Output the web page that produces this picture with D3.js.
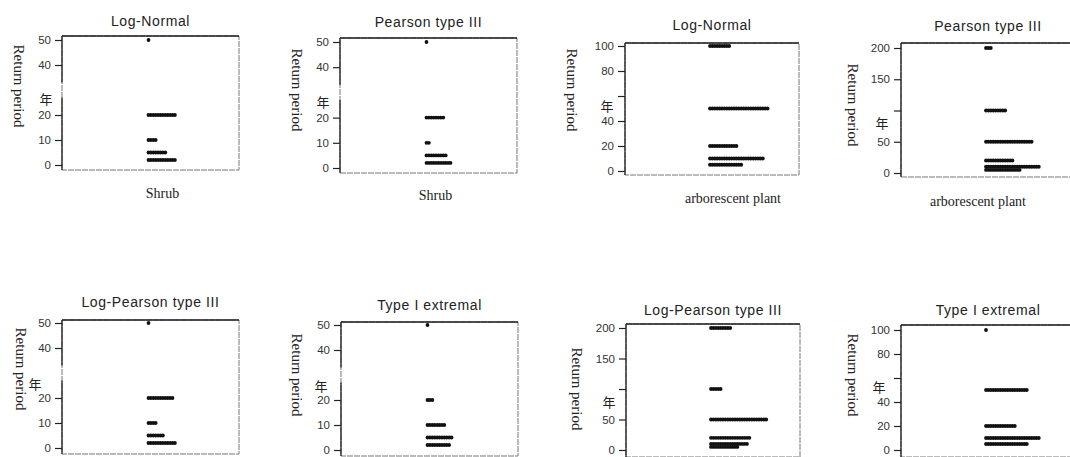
<!DOCTYPE html>
<html><head><meta charset="utf-8">
<script src="https://cdn.jsdelivr.net/npm/d3@7/dist/d3.min.js"></script>
<style>
html,body{margin:0;padding:0;background:#fff;}
svg{display:block;}
</style></head>
<body>
<svg id="chart" width="1070" height="457"></svg>
<script>
// ---------- data ----------
const categories = ["Shrub", "arborescent plant"];
const methods = ["Log-Normal", "Pearson type III", "Log-Pearson type III", "Type I extremal"];
const yAxisLabel = "Return period";
const yearChar = "年";

// return-period values (years) and number of stacked dots at each value
const shrubLogNormalValues = [50, 20, 10, 5, 2];
const shrubLogNormalCounts = [1, 12, 4, 8, 12];
const shrubPearsonValues = [50, 20, 10, 5, 2];
const shrubPearsonCounts = [1, 8, 2, 9, 11];
const shrubLogPearsonValues = [50, 20, 10, 5, 2];
const shrubLogPearsonCounts = [1, 11, 4, 7, 12];
const shrubExtremalValues = [50, 20, 10, 5, 2];
const shrubExtremalCounts = [1, 3, 8, 11, 10];

const arborLogNormalValues = [100, 50, 20, 10, 5];
const arborLogNormalCounts = [9, 25, 12, 23, 14];
const arborPearsonValues = [200, 100, 50, 20, 10, 5];
const arborPearsonCounts = [3, 9, 20, 12, 23, 15];
const arborLogPearsonValues = [200, 100, 50, 20, 10, 5];
const arborLogPearsonCounts = [9, 5, 24, 17, 16, 12];
const arborExtremalValues = [100, 50, 20, 10, 5];
const arborExtremalCounts = [1, 18, 13, 23, 18];

// tick values and labels
const shrubTicks = [0, 10, 20, 40, 50];
const shrubTickLabels = ["0", "10", "20", "40", "50"];
const arborTicks100 = [0, 20, 40, 60, 80, 100];
const arborTickLabels100 = ["0", "20", "40", "", "80", "100"];
const arborTicks200 = [0, 50, 100, 150, 200];
const arborTickLabels200 = ["0", "50", "", "150", "200"];
const shrubBreak = [27, 33];

// ---------- layout ----------
const panels = [
  {m:0, c:0, v:shrubLogNormalValues, n:shrubLogNormalCounts, t:shrubTicks, tl:shrubTickLabels, d:[0,50], brk:shrubBreak,
   x:62, w:177, y0:165, y1:40, top:36, bot:170, titleY:26, catDx:12, catY:198, ylx:19, yly:86, yrx:46, yry:104},
  {m:1, c:0, v:shrubPearsonValues, n:shrubPearsonCounts, t:shrubTicks, tl:shrubTickLabels, d:[0,50], brk:shrubBreak,
   x:340, w:177, y0:168, y1:42, top:38, bot:173, titleY:27, catDx:7, catY:200, ylx:297, yly:90, yrx:323, yry:107},
  {m:0, c:1, v:arborLogNormalValues, n:arborLogNormalCounts, t:arborTicks100, tl:arborTickLabels100, d:[0,100], brk:null,
   x:625, w:174, y0:171, y1:46, top:43, bot:175, titleY:30, catDx:21, catY:203, ylx:572, yly:90, yrx:607, yry:111},
  {m:1, c:1, v:arborPearsonValues, n:arborPearsonCounts, t:arborTicks200, tl:arborTickLabels200, d:[0,200], brk:null,
   x:901, w:174, y0:173, y1:48, top:43, bot:177, titleY:31, catDx:-10, catY:206, ylx:853, yly:105, yrx:882, yry:128},
  {m:2, c:0, v:shrubLogPearsonValues, n:shrubLogPearsonCounts, t:shrubTicks, tl:shrubTickLabels, d:[0,50], brk:shrubBreak,
   x:62, w:177, y0:448, y1:323, top:320, bot:454, titleY:307, catDx:12, catY:null, ylx:21, yly:369, yrx:35, yry:389},
  {m:3, c:0, v:shrubExtremalValues, n:shrubExtremalCounts, t:shrubTicks, tl:shrubTickLabels, d:[0,50], brk:shrubBreak,
   x:341, w:177, y0:450, y1:325, top:322, bot:456, titleY:310, catDx:7, catY:null, ylx:297, yly:375, yrx:321, yry:391},
  {m:2, c:1, v:arborLogPearsonValues, n:arborLogPearsonCounts, t:arborTicks200, tl:arborTickLabels200, d:[0,200], brk:null,
   x:626, w:174, y0:450, y1:328, top:324, bot:457, titleY:315, catDx:21, catY:null, ylx:577, yly:389, yrx:609, yry:407},
  {m:3, c:1, v:arborExtremalValues, n:arborExtremalCounts, t:arborTicks100, tl:arborTickLabels100, d:[0,100], brk:null,
   x:901, w:174, y0:450, y1:330, top:325, bot:457, titleY:315, catDx:-10, catY:null, ylx:853, yly:375, yrx:879, yry:392}
];

const dotStep = 2.4, dotR = 1.9;
const svg = d3.select("#chart");

panels.forEach(p => {
  const g = svg.append("g");
  const x = d3.scalePoint().domain([categories[p.c]]).range([p.x, p.x + p.w]).padding(0.5);
  const y = d3.scaleLinear().domain(p.d).range([p.y0, p.y1]);
  const cx = x(categories[p.c]);

  // box
  g.append("rect").attr("x", p.x).attr("y", p.top).attr("width", p.w).attr("height", p.bot - p.top)
    .attr("fill", "none").attr("stroke", "#777").attr("stroke-width", 1).attr("stroke-dasharray", "6,1");
  g.append("line").attr("x1", p.x).attr("x2", p.x + p.w).attr("y1", p.top).attr("y2", p.top)
    .attr("stroke", "#222").attr("stroke-width", 1.3);

  // left axis line (with break for shrub panels)
  if (p.brk) {
    g.append("line").attr("x1", p.x).attr("x2", p.x).attr("y1", p.top).attr("y2", y(p.brk[1]))
      .attr("stroke", "#222").attr("stroke-width", 1.3);
    g.append("line").attr("x1", p.x).attr("x2", p.x).attr("y1", y(p.brk[0])).attr("y2", p.bot)
      .attr("stroke", "#222").attr("stroke-width", 1.3);
  } else {
    g.append("line").attr("x1", p.x).attr("x2", p.x).attr("y1", p.top).attr("y2", p.bot)
      .attr("stroke", "#222").attr("stroke-width", 1.3);
  }

  // y axis ticks
  const ax = d3.axisLeft(y).tickValues(p.t).tickSize(7).tickPadding(4)
    .tickFormat((d, i) => p.tl[i]);
  const axg = g.append("g").attr("transform", `translate(${p.x},0)`).call(ax);
  axg.select(".domain").remove();
  axg.selectAll(".tick line").attr("stroke", "#222").attr("stroke-width", 1.2);
  axg.selectAll(".tick text").attr("fill", "#333")
    .style("font-family", "'Liberation Sans', Arial, sans-serif").style("font-size", "11.5px");

  // stacked dots
  p.v.forEach((val, i) => {
    const k = d3.range(p.n[i]);
    g.selectAll(null).data(k).enter().append("circle")
      .attr("cx", j => cx - 2 + j * dotStep)
      .attr("cy", y(val))
      .attr("r", dotR)
      .attr("fill", "#111");
  });

  // title
  g.append("text").attr("x", cx).attr("y", p.titleY).attr("text-anchor", "middle")
    .style("font-family", "'Liberation Sans', Arial, sans-serif").style("font-size", "14px")
    .style("letter-spacing", "0.6px").attr("fill", "#222").text(methods[p.m]);

  // category label (only visible in top row; bottom row is cut off in the reference)
  if (p.catY !== null) {
    g.append("text").attr("x", cx + p.catDx).attr("y", p.catY).attr("text-anchor", "middle")
      .style("font-family", "'Liberation Serif', 'Times New Roman', serif").style("font-size", "14px")
      .attr("fill", "#222").text(categories[p.c]);
  }

  // y label
  g.append("text").attr("transform", `translate(${p.ylx},${p.yly}) rotate(90)`)
    .attr("text-anchor", "middle").attr("dominant-baseline", "central")
    .style("font-family", "'Liberation Serif', 'Times New Roman', serif").style("font-size", "15px")
    .attr("fill", "#222").text(yAxisLabel);

  // year char
  g.append("text").attr("x", p.yrx).attr("y", p.yry).attr("text-anchor", "middle")
    .style("font-family", "'Noto Sans CJK SC', sans-serif").style("font-size", "13px")
    .attr("fill", "#222").text(yearChar);
});
</script>
</body></html>
